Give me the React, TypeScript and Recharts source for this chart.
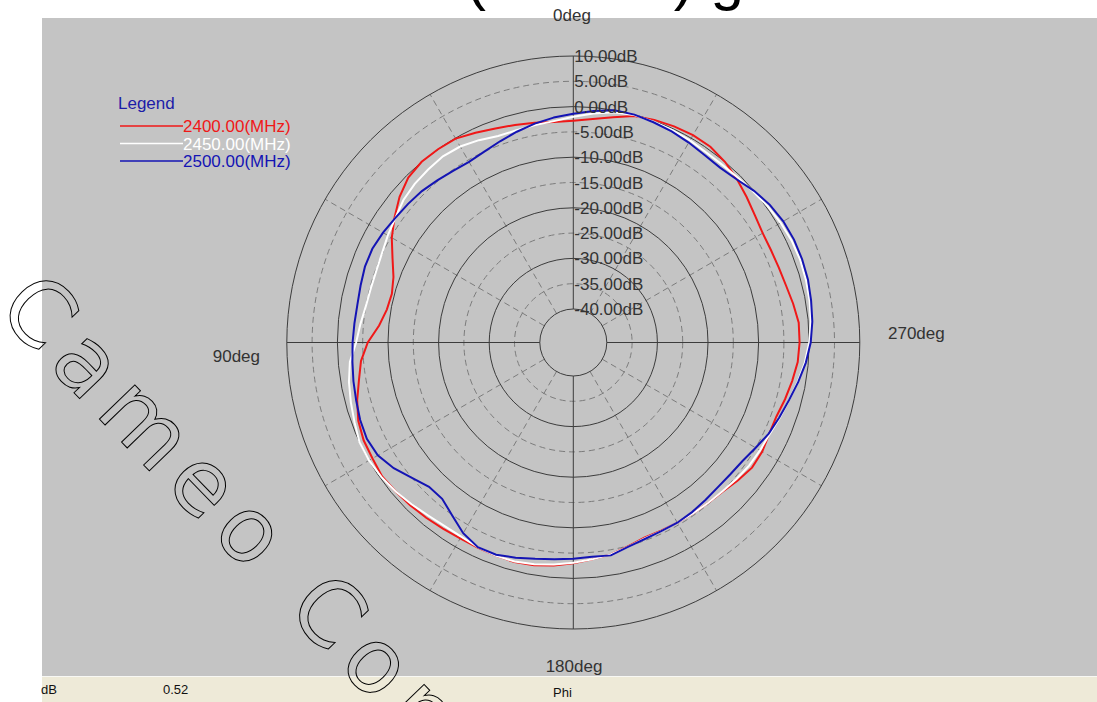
import React from 'react';
import { RadarChart, Radar, PolarGrid, PolarAngleAxis, PolarRadiusAxis } from 'recharts';

// Phi angle in degrees, counter-clockwise from the top
const angles = [
  0, 5, 10, 15, 20, 25, 30, 35, 40, 45, 50, 55, 60, 65, 70, 75, 80, 85,
  90, 95, 100, 105, 110, 115, 120, 125, 130, 135, 140, 145, 150, 155, 160, 165, 170, 175,
  180, 185, 190, 195, 200, 205, 210, 215, 220, 225, 230, 235, 240, 245, 250, 255, 260, 265,
  270, 275, 280, 285, 290, 295, 300, 305, 310, 315, 320, 325, 330, 335, 340, 345, 350, 355,
];

// gain in dB per frequency
const gain2400 = [
  -2.9, -2.5, -2.1, -1.6, -0.9, -0.1, 0.0, 0.0, -0.5, -1.8, -3.5, -5.2, -7.2, -8.8, -9.5, -9.2, -8.1, -6.0,
  -4.5, -3.6, -2.4, -1.4, -0.9, -0.8, -0.5, -0.8, -1.1, -1.4, -1.7, -1.9, -1.9, -1.8, -1.7, -1.9, -2.4, -3.0,
  -3.6, -4.1, -4.9, -5.6, -5.6, -5.5, -5.4, -5.2, -4.9, -4.2, -3.5, -3.5, -3.9, -3.9, -3.3, -2.7, -2.1, -1.9,
  -1.9, -2.5, -3.1, -3.4, -3.5, -3.4, -2.8, -1.9, -0.9, 0.0, 0.6, 0.7, 0.5, 0.2, -0.3, -1.4, -2.3, -2.8,
];
const gain2450 = [
  -2.7, -3.0, -3.2, -3.2, -2.5, -1.9, -1.7, -2.0, -2.3, -2.8, -3.7, -4.3, -4.9, -5.2, -5.2, -5.0, -4.4, -3.7,
  -2.3, -1.6, -1.1, -0.6, 0.0, 0.0, -0.3, -0.8, -1.4, -2.0, -2.3, -2.3, -2.0, -1.8, -1.8, -2.1, -2.6, -3.1,
  -3.6, -4.1, -4.8, -5.4, -5.5, -5.5, -5.4, -5.2, -5.0, -4.6, -4.2, -4.0, -3.8, -3.2, -2.5, -1.6, -0.7, 0.0,
  0.5, 0.8, 1.0, 1.1, 1.0, 0.7, 0.3, -0.2, -0.6, -0.8, -0.8, -0.5, -0.3, -0.2, -0.1, -0.4, -1.2, -2.0,
];
const gain2500 = [
  -2.0, -2.7, -3.5, -4.3, -5.0, -5.4, -5.2, -4.8, -4.3, -4.0, -3.7, -3.2, -2.8, -2.8, -3.1, -3.3, -3.2, -3.0,
  -2.8, -2.5, -2.2, -1.8, -1.6, -2.0, -3.3, -5.0, -6.3, -6.3, -4.9, -3.1, -2.0, -2.0, -2.6, -3.2, -3.6, -3.9,
  -4.1, -3.9, -4.8, -5.3, -5.5, -5.5, -5.7, -6.0, -6.2, -6.1, -5.8, -5.0, -4.0, -3.3, -2.5, -1.5, -0.5, 0.3,
  0.8, 1.1, 1.4, 1.5, 1.5, 1.3, 0.8, 0.0, -1.0, -1.5, -1.4, -1.0, -0.6, -0.3, 0.0, 0.0, -0.7, -1.4,
];

const radiusTicks = [-40, -35, -30, -25, -20, -15, -10, -5, 0, 5, 10];
const solidRings = [-40, -30, -20, -10, 0, 10];
const dashedRings = [-35, -25, -15, -5, 5];

const series = [
  { key: 'f2400', name: '2400.00(MHz)', color: '#f01818' },
  { key: 'f2450', name: '2450.00(MHz)', color: '#ffffff' },
  { key: 'f2500', name: '2500.00(MHz)', color: '#1414b4' },
];

const data = angles.map((a, i) => ({
  angle: a,
  f2400: gain2400[i],
  f2450: gain2450[i],
  f2500: gain2500[i],
}));

const CX = 573.3;
const CY = 342.5;
const R_IN = 33.5;
const R_OUT = 286.5;
const dbMin = radiusTicks[0];
const dbMax = radiusTicks[radiusTicks.length - 1];
const ringR = (db: number) => R_IN + ((db - dbMin) / (dbMax - dbMin)) * (R_OUT - R_IN);

const font = "'Liberation Sans', Arial, sans-serif";
const textGray = '#333';

const DbTick = (props: any) => {
  const { x, y, payload } = props;
  return (
    <text x={x + 1} y={y} dy={6} textAnchor="start" fontSize={17} fontFamily={font} fill={textGray}>
      {`${Number(payload.value).toFixed(2)}dB`}
    </text>
  );
};

export default function App() {
  return (
    <div style={{ position: 'absolute', left: 0, top: 0, width: 1097, height: 702, background: '#fff', overflow: 'hidden' }}>
      <div style={{ position: 'absolute', left: 42, top: 18, width: 1055, height: 658, background: '#c4c4c4' }} />
      <div style={{ position: 'absolute', left: 42, top: 676, width: 1055, height: 26, background: '#eeead8', borderTop: '1px solid #f8f8f4' }} />

      <div style={{ position: 'absolute', left: 0, top: 0 }}>
        <RadarChart
          width={1097}
          height={702}
          data={data}
          cx={CX}
          cy={CY}
          innerRadius={R_IN}
          outerRadius={R_OUT}
          startAngle={90}
          endAngle={450}
          margin={{ top: 0, right: 0, bottom: 0, left: 0 }}
        >
          <PolarGrid
            gridType="circle"
            polarRadius={dashedRings.map(ringR)}
            polarAngles={[30, 60, 120, 150, 210, 240, 300, 330]}
            stroke="#7c7c7c"
            strokeDasharray="6 4"
          />
          <PolarGrid
            gridType="circle"
            polarRadius={solidRings.map(ringR)}
            polarAngles={[0, 90, 180, 270]}
            stroke="#3c3c3c"
          />
          <PolarAngleAxis dataKey="angle" tick={false} axisLine={false} tickLine={false} />
          <PolarRadiusAxis
            angle={90}
            domain={[dbMin, dbMax]}
            ticks={radiusTicks}
            tickCount={11}
            axisLine={false}
            tickLine={false}
            tick={<DbTick />}
          />
          {series.map((s) => (
            <Radar
              key={s.key}
              dataKey={s.key}
              name={s.name}
              stroke={s.color}
              strokeWidth={2}
              fill="none"
              fillOpacity={0}
              dot={false}
              isAnimationActive={false}
            />
          ))}
        </RadarChart>
      </div>

      <svg width={1097} height={702} style={{ position: 'absolute', left: 0, top: 0, pointerEvents: 'none' }}>
        {/* title, clipped by the top edge: only descenders show */}
        <text x={466} y={-1} fontSize={60} fontFamily={font} fill="#000">(XY-Cut) gain</text>

        <g fontFamily={font} fontSize={17} fill={textGray}>
          <text x={572} y={21} textAnchor="middle">0deg</text>
          <text x={260} y={362} textAnchor="end">90deg</text>
          <text x={888} y={339} textAnchor="start">270deg</text>
          <text x={574} y={672} textAnchor="middle">180deg</text>
        </g>

        <g fontFamily={font} fontSize={17}>
          <text x={118} y={109} fill="#1c1ca8">Legend</text>
          {series.map((s, i) => (
            <g key={s.key}>
              <line x1={120} x2={183} y1={126 + i * 17.5} y2={126 + i * 17.5} stroke={s.color} strokeWidth={1.5} />
              <text x={183} y={132 + i * 17.5} fill={s.color}>{s.name}</text>
            </g>
          ))}
        </g>

        <g fontFamily={font} fontSize={13} fill="#111">
          <text x={41} y={694}>dB</text>
          <text x={163} y={694}>0.52</text>
          <text x={553} y={697}>Phi</text>
        </g>

        {/* watermark */}
        <text
          transform="translate(-5,311) rotate(46)"
          fontSize={90}
          fontFamily="'DejaVu Sans', sans-serif"
          style={{ letterSpacing: '12px' }}
          fill="none"
          stroke="#000"
          strokeWidth={1}
        >
          Cameo Communications
        </text>
      </svg>
    </div>
  );
}
